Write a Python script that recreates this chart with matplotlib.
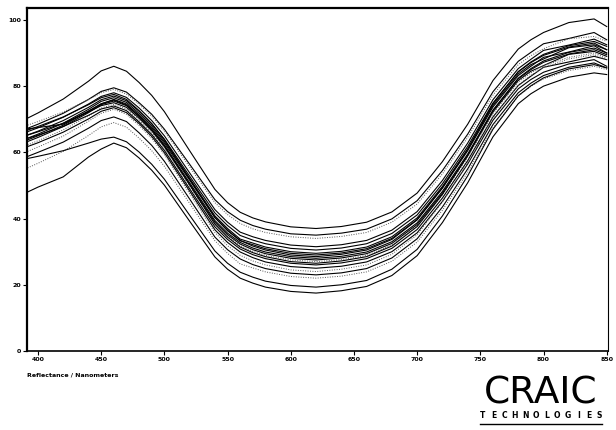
import matplotlib
matplotlib.use("Agg")
import matplotlib.pyplot as plt
from matplotlib.lines import Line2D

# wavelength samples (nm) and reflectance (%) of each spectrum
wavelengths = [390, 400, 420, 440, 450, 460, 470, 480, 490, 500, 520, 540, 550, 560, 570, 580,
               600, 620, 640, 660, 680, 700, 720, 740, 760, 780, 790, 800, 820, 840, 850]

spec_01 = [70, 71.9, 76.1, 81.5, 84.6, 86, 84.5, 81.1, 77.2, 72.3, 60.5, 48.8, 44.8, 41.9, 40.2, 39,
           37.5, 37, 37.6, 38.9, 42, 47.7, 57.2, 68.5, 81.7, 91.2, 94, 96.2, 99.2, 100.3, 98]
spec_02 = [67, 68.5, 71.8, 76, 78.4, 79.5, 78.2, 75, 71.5, 67, 56.4, 45.7, 42.1, 39.5, 37.9, 36.8,
           35.4, 35, 35.6, 36.8, 39.9, 45.4, 54.5, 65.5, 78.3, 87.5, 90.2, 92.8, 94.4, 96.2, 94]
spec_03 = [68, 69.3, 72.2, 75.9, 78, 79, 77.6, 74.5, 70.9, 66.4, 55.6, 44.8, 41.2, 38.5, 36.9, 35.8,
           34.5, 34, 34.6, 35.8, 38.9, 44.4, 53.5, 64.5, 77.3, 86.5, 89.2, 91.3, 94.3, 95, 93.5]
spec_04 = [66, 67.4, 70.6, 74.6, 76.9, 78, 76.6, 73.4, 69.6, 65, 53.8, 42.7, 38.9, 35.9, 34.5, 33.4,
           32, 31.5, 32.1, 33.4, 36.5, 42.1, 51.5, 62.8, 75.9, 85.3, 88.1, 90.8, 92.4, 94.2, 92.5]
spec_05 = [65, 66.4, 69.6, 73.6, 75.9, 77, 75.6, 72.4, 68.6, 64, 52.8, 41.7, 37.9, 34.9, 33.5, 32.4,
           31, 30.5, 31.1, 32.4, 35.5, 41.1, 50.5, 61.8, 74.9, 84.3, 87.1, 89.3, 91.8, 93, 91]
spec_06 = [64, 65.5, 68.8, 73, 75.4, 76.5, 75.1, 71.8, 68, 63.3, 52.1, 40.8, 37, 33.8, 32.6, 31.4,
           30, 29.5, 30.1, 31.4, 34.5, 40.2, 49.7, 61, 74.2, 83.7, 86.5, 88.2, 91.6, 92.5, 91]
spec_07 = [67, 67.5, 68.5, 72.5, 74.6, 76, 74.6, 71.3, 67.5, 62.8, 51.6, 40.3, 36.5, 33.3, 32.1, 30.9,
           29.5, 29, 29.6, 30.9, 34, 39.7, 49.2, 60.5, 73.7, 83.2, 86, 88.7, 90.3, 92.2, 90]
spec_08 = [63, 64.5, 67.8, 72, 74.4, 75.5, 74.1, 70.8, 67, 62.2, 50.8, 39.4, 35.6, 32.8, 31.1, 29.9,
           28.5, 28, 28.6, 29.9, 33, 38.7, 48.2, 59.5, 72.7, 82.2, 85, 87.2, 89.7, 91, 89.5]
spec_09 = [65, 66.2, 68.8, 72.2, 74.1, 75, 73.6, 70.3, 66.5, 61.7, 50.3, 38.9, 35.1, 32.3, 30.6, 29.4,
           28, 27.5, 28.1, 29.4, 32.5, 38.2, 47.7, 59, 72.2, 81.7, 84.5, 86.2, 89.6, 90.5, 89]
spec_10 = [62, 63.5, 66.8, 71, 73.4, 74.5, 73.1, 69.8, 66, 61.2, 49.8, 38.4, 34.6, 31.8, 30.1, 28.9,
           27.5, 27, 27.6, 28.9, 32, 37.7, 47.2, 58.5, 71.7, 81.2, 84, 86.2, 88.7, 90, 88.5]
spec_11 = [64, 65.2, 67.8, 71.2, 73.1, 74, 72.6, 69.2, 65.4, 60.6, 49, 37.5, 33.7, 30.8, 29.1, 27.9,
           26.5, 26, 26.6, 27.9, 31, 36.7, 46.2, 57.5, 70.7, 80.2, 83, 85.7, 87.3, 89, 88]
spec_12 = [61.5, 62.9, 66.1, 70.1, 72.4, 73.5, 72, 68.7, 64.8, 59.9, 48.3, 36.6, 32.8, 29.9, 28.2, 26.9,
           25.5, 25, 25.6, 26.9, 30, 35.7, 45.2, 56.5, 69.7, 79.2, 82, 84.2, 86.7, 88, 86]
spec_13 = [58.5, 60, 63.1, 67.3, 69.6, 70.7, 69.3, 65.9, 62.1, 57.3, 45.9, 34.4, 30.6, 27.8, 26.1, 24.9,
           23.5, 23, 23.6, 24.9, 28.1, 33.9, 43.5, 55, 68.4, 78, 80.9, 83.2, 85.7, 87, 85.5]
spec_14 = [55, 56.7, 60.3, 65.1, 67.7, 69, 67.6, 64.3, 60.5, 55.8, 44.6, 33.3, 29.5, 26.3, 25.1, 23.9,
           22.5, 22, 22.6, 23.9, 27.1, 32.9, 42.5, 54, 67.4, 77, 79.9, 82.2, 84.7, 86, 85]
spec_15 = [58, 58.8, 60.5, 62.8, 64, 64.6, 63.2, 60.1, 56.4, 51.9, 41, 30.2, 26.5, 23.8, 22.3, 21.1,
           19.8, 19.3, 20, 21.3, 24.7, 30.7, 40.8, 52.9, 67, 77.1, 80.1, 82.5, 85.2, 86.5, 85.5]
spec_16 = [47.7, 49.5, 52.6, 58.6, 61, 62.8, 61.4, 58.3, 54.6, 50.1, 39.2, 28.4, 24.7, 22, 20.5, 19.3,
           18, 17.5, 18.2, 19.5, 22.8, 28.8, 38.8, 50.8, 64.7, 74.7, 77.7, 80, 82.7, 84, 83.5]
spec_17 = [66.5, 67.8, 70.7, 74.4, 76.5, 77.5, 76, 72.6, 68.7, 63.8, 52, 40.3, 36.3, 33.4, 31.7, 30.5,
           29, 28.5, 29.2, 30.5, 33.7, 39.6, 49.3, 61, 74.7, 84.4, 87.3, 89.6, 92.2, 93.5, 92]
spec_18 = [63.5, 65, 68.2, 72.4, 74.7, 75.8, 74.3, 70.9, 66.9, 62, 50.2, 38.3, 34.4, 31.4, 29.7, 28.5,
           27, 26.5, 27.2, 28.5, 31.7, 37.6, 47.3, 59, 72.7, 82.4, 85.3, 87.6, 90.2, 91.5, 90]
spec_19 = [60, 61.6, 64.9, 69.4, 71.8, 73, 71.5, 68.1, 64.2, 59.3, 47.5, 35.8, 31.8, 28.9, 27.2, 26,
           24.5, 24, 24.7, 26, 29.2, 35.1, 45, 56.8, 70.5, 80.3, 83.3, 85.6, 88.2, 89.5, 88]

spectra = [spec_01, spec_02, spec_03, spec_04, spec_05, spec_06, spec_07, spec_08,
           spec_09, spec_10, spec_11, spec_12, spec_13, spec_14, spec_15, spec_16,
           spec_17, spec_18, spec_19]
dotted = {2, 9, 13, 18}   # the faint dotted traces

y_ticks = [0, 20, 40, 60, 80, 100]
x_ticks = [400, 450, 500, 550, 600, 650, 700, 750, 800, 850]

fig = plt.figure(figsize=(6.16, 4.30), dpi=100)
ax = fig.add_axes([0.0438, 0.1837, 0.9432, 0.7977])

for i, s in enumerate(spectra):
    if i in dotted:
        ax.plot(wavelengths, s, color='#555555', lw=0.7, ls=(0, (1, 1.5)))
    else:
        ax.plot(wavelengths, s, color='black', lw=0.8)

ax.set_xlim(391.3, 851)
ax.set_ylim(0, 103.6)
ax.set_xticks(x_ticks)
ax.set_yticks(y_ticks)
ax.tick_params(direction='out', length=3, width=0.8, pad=1, labelsize=4.5)
for lab in ax.get_xticklabels() + ax.get_yticklabels():
    lab.set_fontweight('bold')

ax.spines['left'].set_linewidth(1.6)
ax.spines['top'].set_linewidth(1.6)
ax.spines['bottom'].set_linewidth(1.2)
ax.spines['right'].set_linewidth(0.8)

fig.text(27 / 616, 1 - 375 / 430, 'Reflectance / Nanometers', fontsize=4.5,
         fontweight='bold', ha='left', va='center')

# CRAIC logo
fig.text(541 / 616, 1 - 404 / 430, 'CRAIC', fontsize=27, ha='center',
         va='baseline', family='DejaVu Sans')
for k, ch in enumerate('TECHNOLOGIES'):
    fig.text((483 + k * 10.6) / 616, 1 - 415 / 430, ch, fontsize=5.5,
             fontweight='bold', ha='center', va='center')
fig.add_artist(Line2D([480 / 616, 602 / 616], [1 - 424 / 430, 1 - 424 / 430],
                      color='black', lw=1.0, transform=fig.transFigure))

fig.savefig('out.png', dpi=100)
